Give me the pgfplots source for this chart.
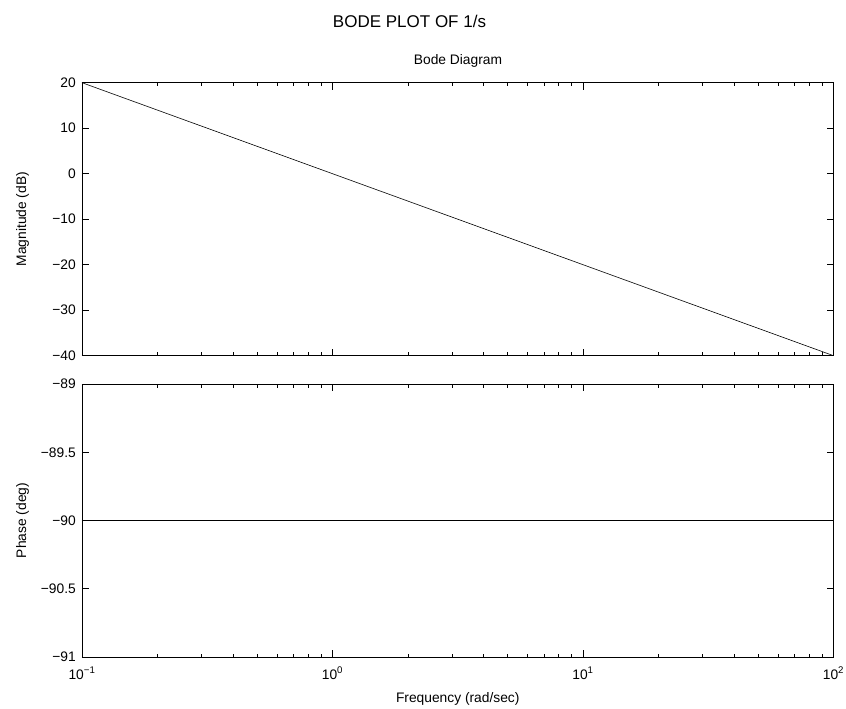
\documentclass[border=0pt]{standalone}
\usepackage{fontspec}
\setmainfont{Liberation Sans}
\usepackage{pgfplots}
\pgfplotsset{compat=1.18}
\newcommand{\lblfont}{\fontsize{13.8bp}{16bp}\selectfont}
\pgfplotsset{
  bodeaxis/.style={
    scale only axis, width=751.5bp, height=273bp,
    xmin=0.1, xmax=100,
    axis line style={line width=0.8bp},
    every tick/.style={black, line width=0.6bp},
    major tick length=7bp, minor tick length=3.5bp,
    tick label style={font=\lblfont},
    label style={font=\lblfont},
    /pgf/number format/assume math mode=true,
    yticklabel style={inner sep=0pt, xshift=-6bp},
    xticklabel style={inner sep=0pt, yshift=-10bp},
    ylabel style={at={(axis description cs:-0.079,0.5)}, anchor=center},
    xtick={0.1,1,10,100},
    ytick pos=both, xtick pos=both,
  }
}
\begin{document}
\lblfont
\begin{tikzpicture}
\useasboundingbox (-82bp,82.7bp) rectangle (764bp,-626.3bp);
\node[font=\fontsize{17bp}{20bp}\selectfont] at (327.5bp,61.7bp) {BODE PLOT OF 1/s};
\node[font=\lblfont] at (376bp,21.7bp) {Bode Diagram};
\begin{semilogxaxis}[bodeaxis, at={(0,0)}, anchor=north west,
  ymin=-40, ymax=20, ytick={-40,-30,-20,-10,0,10,20},
  yticklabels={−40,−30,−20,−10,0,10,20},
  xticklabels={},
  ylabel={Magnitude (dB)}]
\addplot[black, line width=0.6bp] coordinates {(0.1,20) (1,0) (10,-20) (100,-40)};
\end{semilogxaxis}
\begin{semilogxaxis}[bodeaxis, at={(0,-301.3bp)}, anchor=north west,
  ymin=-91, ymax=-89, ytick={-91,-90.5,-90,-89.5,-89},
  yticklabels={−91,−90.5,−90,−89.5,−89},
  xticklabels={10\textsuperscript{−1},10\textsuperscript{0},10\textsuperscript{1},10\textsuperscript{2}},
  ylabel={Phase (deg)},
  xlabel={Frequency (rad/sec)},
  xlabel style={at={(axis description cs:0.5,-0.155)}, anchor=center}]
\addplot[black, line width=0.6bp] coordinates {(0.1,-90) (100,-90)};
\end{semilogxaxis}
\end{tikzpicture}
\end{document}
